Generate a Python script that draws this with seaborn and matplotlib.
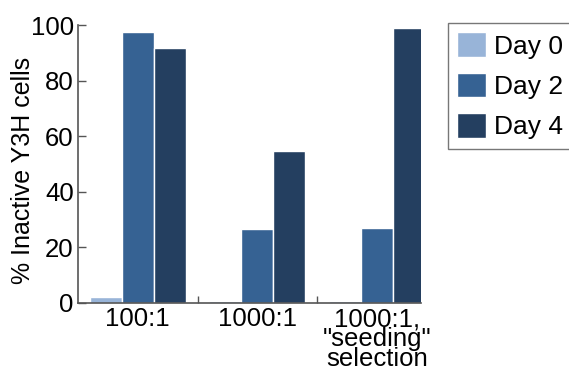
import numpy as np
import pandas as pd
import matplotlib
matplotlib.use('Agg')
import matplotlib.pyplot as plt
import seaborn as sns

# data
conditions = ['100:1', '1000:1', '1000:1,\n"seeding"\nselection']
days = ['Day 0', 'Day 2', 'Day 4']
day0 = [2.2, 0.6, 0.6]
day2 = [97.5, 26.8, 27.0]
day4 = [91.8, 54.8, 98.8]
colors = ['#98b4d8', '#366293', '#243f60']

df = pd.DataFrame({
    'condition': conditions * 3,
    'day': np.repeat(days, 3),
    'value': day0 + day2 + day4,
})

sns.set_style('white')
plt.rcParams['font.family'] = ['Liberation Sans', 'DejaVu Sans']
plt.rcParams['text.color'] = 'black'
plt.rcParams['axes.labelcolor'] = 'black'
plt.rcParams['xtick.color'] = 'black'
plt.rcParams['ytick.color'] = 'black'

fig = plt.figure(figsize=(5.69, 3.75), dpi=100)
ax = fig.add_axes([0.137, 0.192, 0.603, 0.741])
sns.barplot(data=df, x='condition', y='value', hue='day', palette=colors,
            saturation=1, width=0.8, edgecolor='white', linewidth=1.0, ax=ax)

ax.set_ylim(0, 100)
ax.set_xlim(-0.5, 2.37)
ax.set_yticks([0, 20, 40, 60, 80, 100])
ax.tick_params(axis='y', direction='in', length=6, width=1, color='#555555',
               labelsize=18.5, pad=3, left=True)
ax.tick_params(axis='x', which='major', length=0, labelsize=18.5, pad=3)
ax.set_xticks([0.5, 1.5], minor=True)
ax.tick_params(axis='x', which='minor', direction='in', length=5, width=1,
               color='#555555', bottom=True)
for lbl in ax.get_xticklabels():
    lbl.set_linespacing(0.78)
    lbl.set_verticalalignment('top')
ax.set_xlabel('')
ax.set_ylabel('% Inactive Y3H cells', fontsize=18, va='center')
ax.yaxis.set_label_coords(-0.16, 0.478)
for side in ['top', 'right']:
    ax.spines[side].set_visible(False)
for side in ['left', 'bottom']:
    ax.spines[side].set_color('#555555')
    ax.spines[side].set_linewidth(1.2)

leg = ax.legend(loc='upper left', bbox_to_anchor=(1.079, 1.007), fontsize=19,
                frameon=True, fancybox=False, edgecolor='#555555',
                handlelength=1.1, handleheight=1.06, handletextpad=0.3,
                labelspacing=0.53, borderpad=0.35, borderaxespad=0)
leg.get_frame().set_linewidth(1.0)

fig.savefig('out.png', dpi=100)
